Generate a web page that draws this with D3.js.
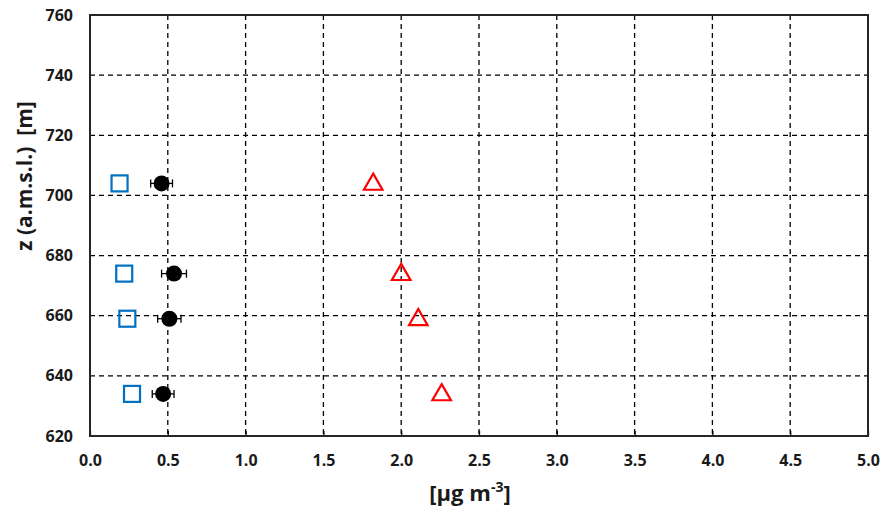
<!DOCTYPE html>
<html><head><meta charset="utf-8">
<script src="https://cdn.jsdelivr.net/npm/d3@7"></script>
<style>body{margin:0;background:#fff;} text{font-family:"Open Sans",sans-serif;font-weight:700;}</style>
</head><body>
<svg id="c" width="883" height="509"></svg>
<script>
const xTicks = [0.0,0.5,1.0,1.5,2.0,2.5,3.0,3.5,4.0,4.5,5.0];
const yTicks = [620,640,660,680,700,720,740,760];
const squareX = [0.19,0.22,0.24,0.27];
const squareZ = [704,674,659,634];
const circleX = [0.46,0.54,0.51,0.47];
const circleErr = [0.07,0.08,0.075,0.07];
const circleZ = [704,674,659,634];
const triX = [1.82,2.00,2.11,2.26];
const triZ = [704,674,659,634];

const svg = d3.select("#c");
const L=90,R=868,T=15,B=436;
const x = d3.scaleLinear().domain([0,5]).range([L,R]);
const y = d3.scaleLinear().domain([620,760]).range([B,T]);
const FONT = '"Open Sans",sans-serif';

// grid
svg.append("g").selectAll("line").data(xTicks.filter(d=>d>0&&d<5)).join("line")
  .attr("x1",d=>x(d)).attr("x2",d=>x(d)).attr("y1",T).attr("y2",B)
  .attr("stroke","#000").attr("stroke-width",1.3).attr("stroke-dasharray","5,4");
svg.append("g").selectAll("line").data(yTicks.filter(d=>d>620&&d<760)).join("line")
  .attr("x1",L).attr("x2",R).attr("y1",d=>y(d)).attr("y2",d=>y(d))
  .attr("stroke","#000").attr("stroke-width",1.3).attr("stroke-dasharray","5,4");

// x axis inward ticks
const xa = svg.append("g").attr("transform",`translate(0,${B})`)
  .call(d3.axisBottom(x).tickValues(xTicks).tickFormat(d3.format(".1f")).tickSizeInner(-5).tickSizeOuter(0).tickPadding(19));
xa.select(".domain").remove();
xa.selectAll("line").attr("stroke","#000").attr("stroke-width",1.3);
xa.selectAll("text").attr("font-size",16).attr("fill","#1a1a1a").attr("font-family",FONT).attr("font-weight",700);

const ya = svg.append("g").attr("transform",`translate(${L},0)`)
  .call(d3.axisLeft(y).tickValues(yTicks).tickSize(0).tickPadding(17));
ya.select(".domain").remove();
ya.selectAll("text").attr("font-size",16).attr("fill","#1a1a1a").attr("font-family",FONT).attr("font-weight",700);

// border
svg.append("rect").attr("x",L).attr("y",T).attr("width",R-L).attr("height",B-T)
  .attr("fill","none").attr("stroke","#262626").attr("stroke-width",2);

// squares
svg.append("g").selectAll("rect").data(squareX).join("rect")
  .attr("x",(d,i)=>x(d)-8).attr("y",(d,i)=>y(squareZ[i])-8).attr("width",16).attr("height",16)
  .attr("fill","none").attr("stroke","#0070C0").attr("stroke-width",2.2);

// error bars
const eb = svg.append("g");
circleX.forEach((v,i)=>{
  const yy=y(circleZ[i]), x0=x(v-circleErr[i]), x1=x(v+circleErr[i]);
  eb.append("line").attr("x1",x0).attr("x2",x1).attr("y1",yy).attr("y2",yy).attr("stroke","#000").attr("stroke-width",1.3);
  [x0,x1].forEach(xx=>eb.append("line").attr("x1",xx).attr("x2",xx).attr("y1",yy-4).attr("y2",yy+4).attr("stroke","#000").attr("stroke-width",1.3));
});
svg.append("g").selectAll("circle").data(circleX).join("circle")
  .attr("cx",d=>x(d)).attr("cy",(d,i)=>y(circleZ[i])).attr("r",8).attr("fill","#000");

// triangles
const tri = d3.symbol().type(d3.symbolTriangle).size(150);
svg.append("g").selectAll("path").data(triX).join("path")
  .attr("d",tri).attr("transform",(d,i)=>`translate(${x(d)},${y(triZ[i])+1})`)
  .attr("fill","none").attr("stroke","#FF0000").attr("stroke-width",2.2);

// axis titles
svg.append("text").attr("transform",`translate(32,176) rotate(-90)`).attr("text-anchor","middle")
  .attr("font-size",21).attr("fill","#1a1a1a").attr("xml:space","preserve").text("z (a.m.s.l.)  [m]");
const xt = svg.append("text").attr("x",470).attr("y",501).attr("text-anchor","middle").attr("font-size",22).attr("fill","#1a1a1a");
xt.append("tspan").text("[µg m");
xt.append("tspan").attr("dy",-9).attr("font-size",14).text("-3");
xt.append("tspan").attr("dy",9).text("]");
</script>
</body></html>
